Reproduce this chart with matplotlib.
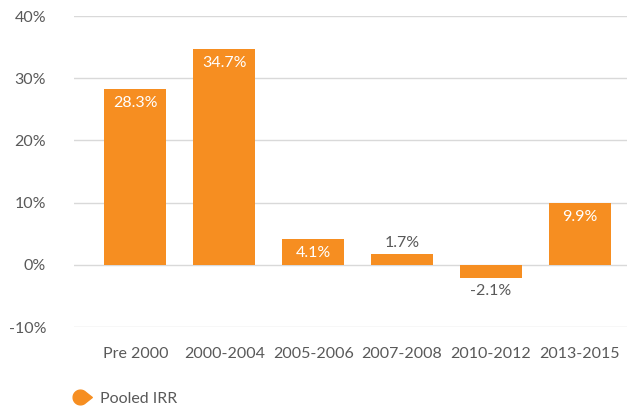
import numpy as np
import matplotlib
matplotlib.use("Agg")
import matplotlib.pyplot as plt
from matplotlib.path import Path
from matplotlib.lines import Line2D

# Chart data
periods = ["Pre 2000", "2000-2004", "2005-2006", "2007-2008", "2010-2012", "2013-2015"]
pooled_irr = [28.3, 34.7, 4.1, 1.7, -2.1, 9.9]
y_ticks = [-10, 0, 10, 20, 30, 40]

orange = "#F68E21"
grey_text = "#595959"
grid_grey = "#D9D9D9"

plt.rcParams["font.family"] = ["Lato", "DejaVu Sans"]

fig = plt.figure(figsize=(6.27, 4.12), dpi=100)
ax = fig.add_axes([0.118, 0.206, 0.882, 0.755])

x = np.arange(len(periods))
bars = ax.bar(x, pooled_irr, width=0.7, color=orange, zorder=3)

ax.set_ylim(-10, 40)
ax.set_xlim(-0.69, 5.53)
ax.set_yticks(y_ticks)
ax.set_yticklabels([f"{t}%" for t in y_ticks])
ax.set_xticks(x)
ax.set_xticklabels(periods)
ax.tick_params(axis="both", length=0, labelsize=11.5, colors=grey_text)
ax.tick_params(axis="y", pad=20)
ax.tick_params(axis="x", pad=14)
ax.yaxis.grid(True, color=grid_grey, linewidth=1, zorder=0)
for s in ax.spines.values():
    s.set_visible(False)

# value labels: inside for tall bars, outside for small ones
for xi, v in zip(x, pooled_irr):
    txt = f"{v}%"
    if v >= 4:
        ax.annotate(txt, (xi, v), xytext=(0, -5), textcoords="offset points",
                    ha="center", va="top", color="white", fontsize=11.5, zorder=4)
    elif v >= 0:
        ax.annotate(txt, (xi, v), xytext=(0, 3), textcoords="offset points",
                    ha="center", va="bottom", color=grey_text, fontsize=11.5, zorder=4)
    else:
        ax.annotate(txt, (xi, v), xytext=(0, -4), textcoords="offset points",
                    ha="center", va="top", color=grey_text, fontsize=11.5, zorder=4)

# teardrop legend marker
t = np.linspace(np.pi / 4, 7 * np.pi / 4, 30)
verts = list(zip(np.cos(t), np.sin(t))) + [(1.6, 0), (np.cos(np.pi / 4), np.sin(np.pi / 4))]
drop = Path(verts)
handle = Line2D([], [], marker=drop, color=orange, markersize=17, linestyle="none")
fig.legend([handle], ["Pooled IRR"], loc="lower left", bbox_to_anchor=(0.085, -0.02),
           frameon=False, fontsize=11.5, labelcolor=grey_text, handletextpad=0.4,
           handlelength=1.6)

fig.savefig("out.png", dpi=100)
